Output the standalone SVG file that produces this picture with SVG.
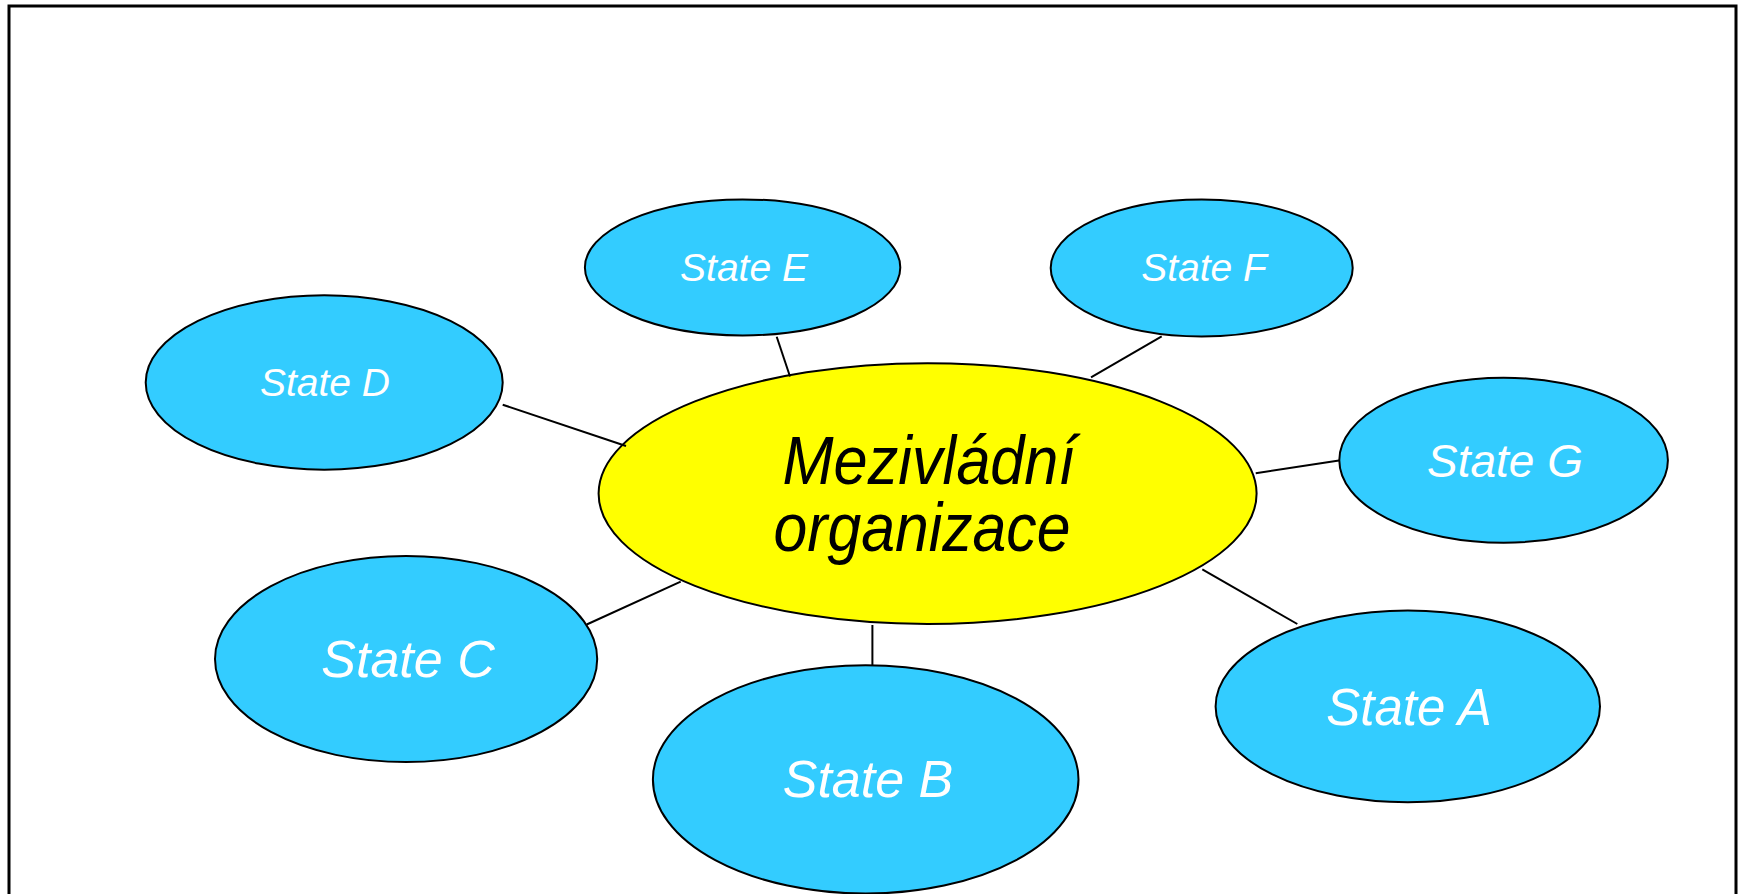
<svg xmlns="http://www.w3.org/2000/svg" width="1747" height="894" viewBox="0 0 1747 894">
<style>
.frame{fill:none;stroke:#000;stroke-width:3}
.state{fill:#33ccff;stroke:#000;stroke-width:2}
.hub{fill:#ffff00;stroke:#000;stroke-width:2}
.conn line{stroke:#000;stroke-width:2}
.lbl{font-family:"Liberation Sans",Arial,sans-serif;font-style:italic;fill:#fff;text-anchor:middle}
.hubtxt{font-family:"Liberation Sans",Arial,sans-serif;font-style:italic;fill:#000;text-anchor:middle;font-size:68px}
</style>
<rect x="0" y="0" width="1747" height="894" fill="#fff"/>
<path class="frame" d="M9,900 V6 H1736 V900"/>
<g id="hub">
<ellipse class="hub" cx="927.6" cy="493.6" rx="329" ry="130.4"/>
<text class="hubtxt" x="929" y="484" textLength="293" lengthAdjust="spacingAndGlyphs">Mezivládní</text>
<text class="hubtxt" x="922" y="551" textLength="297" lengthAdjust="spacingAndGlyphs">organizace</text>
</g>
<g id="connectors" class="conn">
<line x1="776.7" y1="336.7" x2="790" y2="376.5"/>
<line x1="1161.7" y1="336.3" x2="1091" y2="377.3"/>
<line x1="502.7" y1="404.7" x2="626" y2="446"/>
<line x1="1255.7" y1="473.3" x2="1339" y2="460.5"/>
<line x1="1202.3" y1="569.3" x2="1297.3" y2="624"/>
<line x1="680.7" y1="581.7" x2="586.7" y2="624.5"/>
<line x1="872.4" y1="625" x2="872.4" y2="665.5"/>
</g>
<g id="stateE">
<ellipse class="state" cx="742.6" cy="267.4" rx="157.7" ry="68"/>
<text class="lbl" x="744" y="281" font-size="39">State E</text>
</g>
<g id="stateF">
<ellipse class="state" cx="1201.7" cy="268" rx="151" ry="68.5"/>
<text class="lbl" x="1204" y="281" font-size="39">State F</text>
</g>
<g id="stateD">
<ellipse class="state" cx="324.2" cy="382.5" rx="178.5" ry="87.2"/>
<text class="lbl" x="325" y="396" font-size="39">State D</text>
</g>
<g id="stateG">
<ellipse class="state" cx="1503.6" cy="460.2" rx="164.3" ry="82.5"/>
<text class="lbl" x="1505" y="477" font-size="46">State G</text>
</g>
<g id="stateC">
<ellipse class="state" cx="406.1" cy="659" rx="191.1" ry="103.1"/>
<text class="lbl" x="408" y="677" font-size="52">State C</text>
</g>
<g id="stateA">
<ellipse class="state" cx="1407.8" cy="706.4" rx="192.2" ry="95.8"/>
<text class="lbl" x="1409" y="725" font-size="51">State A</text>
</g>
<g id="stateB">
<ellipse class="state" cx="865.7" cy="779.4" rx="212.8" ry="114.2"/>
<text class="lbl" x="868" y="797" font-size="52">State B</text>
</g>
</svg>
